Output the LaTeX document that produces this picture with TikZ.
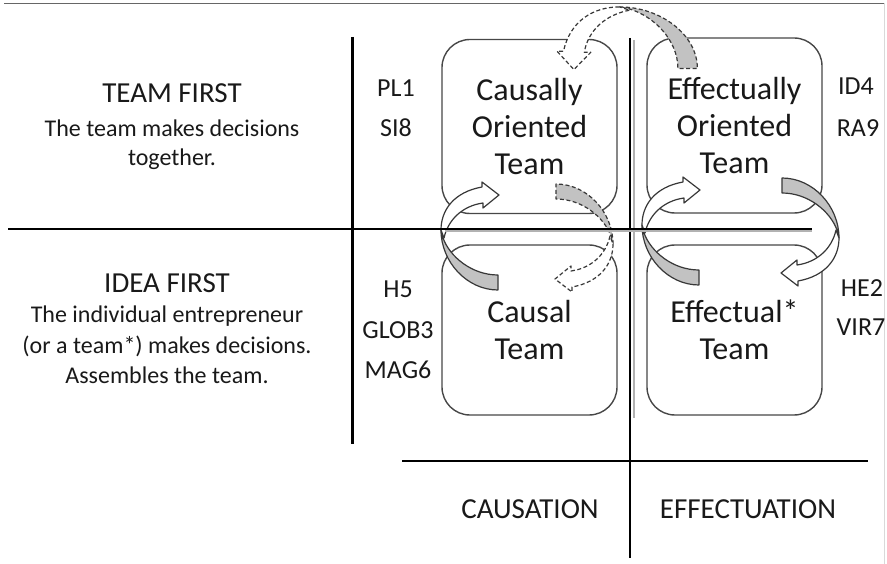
\documentclass[tikz,border=0pt]{standalone}
\usepackage{fontspec}
\setmainfont{Carlito}
\begin{document}
\begin{tikzpicture}[x=1pt,y=-1pt,
  axis/.style={line width=2.6pt, black},
  axisshade/.style={line width=2pt, black!30},
  box/.style={draw=black!72, line width=1.4pt, rounded corners=28pt,
    minimum width=175pt, align=center, inner sep=0pt,
    font=\fontsize{32}{37}\selectfont, text=black!90},
  title/.style={font=\fontsize{29}{34}\selectfont, text=black!90, inner sep=0pt},
  desc/.style={font=\fontsize{24}{30}\selectfont, text=black!90, inner sep=0pt},
  code/.style={font=\fontsize{26}{30}\selectfont, text=black!90, inner sep=0pt},
  ribgray/.style={fill=black!24, draw=black!78, line width=1.2pt, line join=round},
  ribwhite/.style={fill=white, draw=black!78, line width=1.2pt, line join=round},
  ribbon/.pic={
    % back face of the curled arrow
    \path[ribgray] (-1,-2) .. controls (-1,30) and (25,58) .. (56,58)
      -- (56,43) .. controls (30,43) and (8,25) .. (1,6) -- cycle;
    % front face with the arrow head
    \path[ribwhite] (-1,-2) .. controls (-1,-22) and (12,-40) .. (40,-45)
      -- (40,-50) -- (57,-37) -- (41,-24) -- (41,-29)
      .. controls (20,-26) and (6,-12) .. (2,6) -- cycle;
  },
  dashedrib/.style={ribgray/.append style={dash pattern=on 4pt off 2.5pt},
    ribwhite/.append style={dash pattern=on 4pt off 2.5pt}}
]
\useasboundingbox (0,0) rectangle (887,564);

% frame edges
\coordinate (fTL) at (4,3.5);
\coordinate (fTR) at (884,3.5);
\coordinate (fRT) at (884.5,3.5);
\coordinate (fBR) at (884.5,564);
\draw[black!60, line width=1.6pt] (fTL) -- (fTR);
\draw[black!15, line width=1pt] (fRT) -- (fBR);

% axes of the matrix
\coordinate (vLt) at (352.5,37);
\coordinate (vLb) at (352.5,444);
\coordinate (vCt) at (630,38);
\coordinate (vCb) at (630,558);
\coordinate (hBl) at (402,461);
\coordinate (hBr) at (868,461);
\coordinate (hL) at (8,229);
\coordinate (hR) at (812,229);
\coordinate (sVt) at (633.5,40);
\coordinate (sVb) at (633.5,418);
\coordinate (sHl) at (445,231.5);
\coordinate (sHr) at (812,231.5);

\draw[axisshade] (sVt) -- (sVb);
\draw[axis, line width=2.4pt] (vLt) -- (vLb);
\draw[axis] (vCt) -- (vCb);
\draw[axis] (hBl) -- (hBr);

% quadrant boxes
\node[box, minimum height=174pt] (co) at (529.5,126.5) {Causally\\Oriented\\Team};
\node[box, minimum height=175pt] (eo) at (734.5,125.5) {Effectually\\Oriented\\Team};
\node[box, minimum height=170pt] (ca) at (529.5,330) {Causal\\Team};
\node[box, minimum height=170pt] (ef) at (734.5,330) {Effectual*\\Team};

% curled transition arrows
\pic at (442,232) {ribbon};
\pic at (643,227) {ribbon};
\pic[rotate=180] at (838,236) {ribbon};
\begin{scope}[dashedrib]
  \pic[rotate=180] at (612,242) {ribbon};
  % arch over the top: the same ribbon mirrored about the diagonal
  \begin{scope}[shift={(622,8)}, rotate=90, xscale=-1.08, yscale=1.3]
    \pic[transform shape] at (0,0) {ribbon};
  \end{scope}
\end{scope}

% horizontal axis drawn over the arrows
\draw[axisshade] (sHl) -- (sHr);
\draw[axis] (hL) -- (hR);

% row headings
\node[title, anchor=base] (tf) at (172,103) {TEAM FIRST};
\node[desc, anchor=base] (tf1) at (172,137) {The team makes decisions};
\node[desc, anchor=base] (tf2) at (172,166) {together.};
\node[title, anchor=base] (idf) at (167,293) {IDEA FIRST};
\node[desc, anchor=base] (idf1) at (167,323) {The individual entrepreneur};
\node[desc, anchor=base] (idf2) at (167,353) {(or a team*) makes decisions.};
\node[desc, anchor=base] (idf3) at (167,383) {Assembles the team.};

% case codes
\node[code, anchor=base] (pl) at (396,97) {PL1};
\node[code, anchor=base] (si) at (396,137) {SI8};
\node[code, anchor=base] (h5) at (398,298) {H5};
\node[code, anchor=base] (gl) at (398,338) {GLOB3};
\node[code, anchor=base] (mg) at (398,378) {MAG6};
\node[code, anchor=base] (id) at (856,95) {ID4};
\node[code, anchor=base] (ra) at (858,137) {RA9};
\node[code, anchor=base] (he) at (862,297) {HE2};
\node[code, anchor=base] (vi) at (861,335) {VIR7};

% column headings
\node[title, anchor=base] (cs) at (530,518) {CAUSATION};
\node[title, anchor=base] (ec) at (748,518) {EFFECTUATION};
\end{tikzpicture}
\end{document}
